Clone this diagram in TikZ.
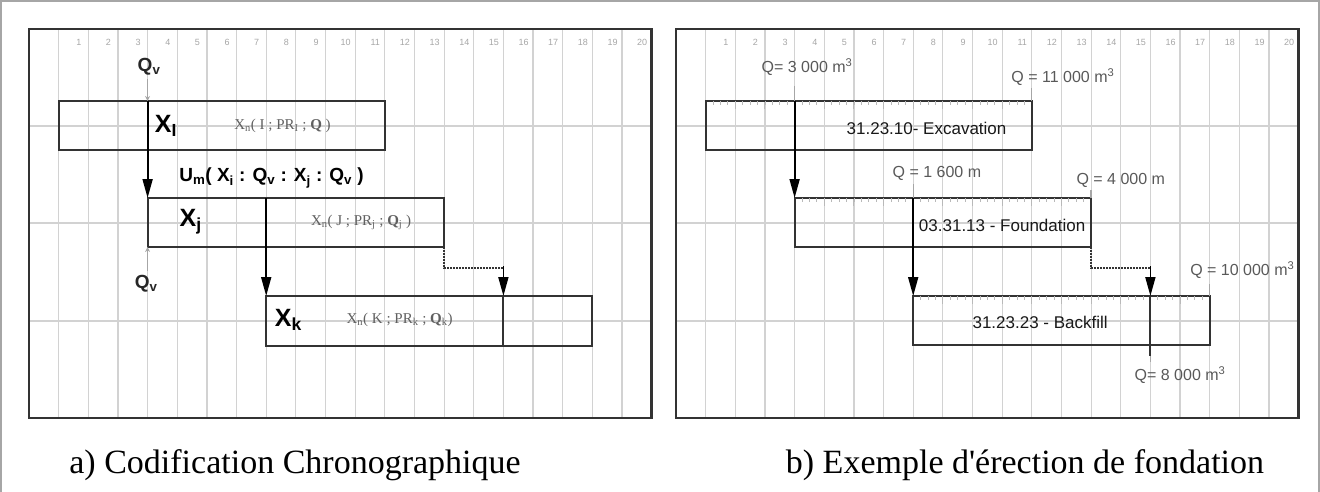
\documentclass[tikz,border=0pt]{standalone}
\usepackage{fontspec}
\setmainfont{Liberation Serif}
\setsansfont{Liberation Sans}
\usepackage{tikz}
\usetikzlibrary{arrows.meta}

\tikzset{
  gridline/.style={gray!35, line width=1.2},
  panelframe/.style={black!80, line width=2.6},
  bar/.style={black!80, line width=1.9},
  link/.style={black, line width=1.8, -{Triangle[length=19pt,width=10pt]}},
  qtick/.style={gray!70, line width=1.3},
  colnum/.style={font=\sffamily\fontsize{9}{9}\selectfont, text=gray!70},
  qlab/.style={font=\sffamily\fontsize{16}{16}\selectfont, text=black!65},
  qvlab/.style={font=\sffamily\bfseries\fontsize{19}{19}\selectfont, text=black!85},
  bigx/.style={font=\sffamily\bfseries\fontsize{25}{25}\selectfont},
  gantt/.style={font=\sffamily\fontsize{17}{17}\selectfont, text=black!90},
  xcode/.style={font=\rmfamily\fontsize{15}{15}\selectfont, text=gray!75!black},
  caption/.style={font=\fontsize{34}{34}\selectfont},
}

\begin{document}
\begin{tikzpicture}[x=1pt, y=-1pt]
\useasboundingbox (0,0) rectangle (1320,492);
\draw[gray!70, line width=2] (1,492) -- (1,1) -- (1319,1) -- (1319,492);
% the two charts share the same grid
\foreach \ox in {29,676}{
  \begin{scope}[shift={(\ox,0)}, x=29.65pt]
    \foreach \i in {1,...,20}{
      \draw[gridline] (\i,29) -- (\i,418);
      \node[colnum] at (\i+0.68,42) {\i};
    }
    \foreach \y in {126,223,321}{
      \draw[gridline] (0,\y) -- (21,\y);
    }
    \draw[panelframe] (0,29) rectangle (21,418);
  \end{scope}
}

% a) codification
\begin{scope}[shift={(29,0)}, x=29.65pt]
\draw[bar] (1,101) rectangle (12,150);
\draw[bar] (4,198) rectangle (14,247);
\draw[bar] (8,296) rectangle (19,346);
\coordinate (ai0) at (4,101);
\coordinate (aj0) at (4,198);
\coordinate (aj1) at (8,198);
\coordinate (ajb) at (4,247);
\coordinate (ak0) at (8,296);
\coordinate (ajc) at (14,247);
\coordinate (ak1) at (16,296);
\coordinate (ak2) at (16,346);
\node[qvlab] (qvin) at (4.05,67) {Q\textsubscript{v}};
\node[qvlab] (qvout) at (3.95,284) {Q\textsubscript{v}};
\draw[qtick, -{Stealth[length=5pt,width=5pt]}] (4,79) -- (ai0);
\draw[qtick, -{Stealth[length=5pt,width=5pt]}] (4,271) -- (ajb);
\draw[link] (ai0) -- (aj0);
\draw[link] (aj1) -- (ak0);
\draw[black!80, line width=1.3, dash pattern=on 2pt off 1pt] (ajc) -- (14,268) -- (16,268) -- (16,282);
\draw[link] (16,266) -- (ak1);
\draw[bar] (ak1) -- (ak2);
\node[bigx] (xi) at (4.62,126) {X\textsubscript{I}};
\node[xcode] (xni) at (8.55,126) {X\textsubscript{n}( I ; PR\textsubscript{I} ; \textbf{Q} )};
\node[font=\sffamily\bfseries\fontsize{19}{19}\selectfont] (um) at (8.18,178) {U\textsubscript{m}( X\textsubscript{i} : Q\textsubscript{v} : X\textsubscript{j} : Q\textsubscript{v} )};
\node[bigx] (xj) at (5.45,222) {X\textsubscript{j}};
\node[xcode] (xnj) at (11.2,222) {X\textsubscript{n}( J ; PR\textsubscript{j} ; \textbf{Q}\textsubscript{j} )};
\node[bigx] (xk) at (8.75,320) {X\textsubscript{k}};
\node[xcode] (xnk) at (12.5,320) {X\textsubscript{n}( K ; PR\textsubscript{k} ; \textbf{Q}\textsubscript{k})};
\end{scope}

% b) foundation example
\begin{scope}[shift={(676,0)}, x=29.65pt]
\foreach \a/\b/\y in {1/12/101, 4/14/198, 8/18/296}{
  \foreach \t in {\a,...,\b}{
    \draw[gray!55, line width=1] (\t,\y) -- ++(0,8);
  }
  \draw[bar] (\a,\y) rectangle (\b,\y+49);
}
\foreach \y in {101,198,296}{
  \foreach \t in {1.25,1.5,...,17.75}{
    \pgfmathparse{(\y==101 && \t<12) || (\y==198 && \t>4 && \t<14) || (\y==296 && \t>8 && \t<18) ? 1 : 0}
    \ifnum\pgfmathresult=1 \draw[gray!55, line width=0.8] (\t,\y) -- ++(0,4); \fi
  }
}
\coordinate (bi0) at (4,101);
\coordinate (bj0) at (4,198);
\coordinate (bj1) at (8,198);
\coordinate (bk0) at (8,296);
\coordinate (bjc) at (14,247);
\coordinate (bk1) at (16,296);
\coordinate (bk2) at (16,356);
\node[qlab] (q1) at (4.42,67) {Q= 3 000 m\textsuperscript{3}};
\node[qlab] (q2) at (13.05,77) {Q = 11 000 m\textsuperscript{3}};
\node[qlab] (q3) at (8.8,173) {Q = 1 600 m};
\node[qlab] (q4) at (15.0,180) {Q = 4 000 m};
\node[qlab] (q5) at (19.1,270) {Q = 10 000 m\textsuperscript{3}};
\node[qlab] (q6) at (17.0,375) {Q= 8 000 m\textsuperscript{3}};
\draw[qtick] (4,86) -- (bi0);
\draw[qtick] (12,88) -- (12,101);
\draw[qtick] (8,184) -- (8,198);
\draw[qtick] (14,190) -- (14,198);
\draw[qtick] (18,284) -- (18,296);
\draw[qtick] (bk2) -- (16,362);
\draw[link] (bi0) -- (bj0);
\draw[link] (bj1) -- (bk0);
\draw[black!80, line width=1.3, dash pattern=on 2pt off 1pt] (bjc) -- (14,268) -- (16,268) -- (16,282);
\draw[link] (16,266) -- (bk1);
\draw[bar] (bk1) -- (bk2);
\node[gantt] (exc) at (8.45,128) {31.23.10- Excavation};
\node[gantt] (fnd) at (11.0,225) {03.31.13 - Foundation};
\node[gantt] (bkf) at (12.28,322) {31.23.23 - Backfill};
\end{scope}

\node[caption] (capa) at (295,465) {a) Codification Chronographique};
\node[caption] (capb) at (1025,465) {b) Exemple d\textquotesingle érection de fondation};
\end{tikzpicture}
\end{document}
